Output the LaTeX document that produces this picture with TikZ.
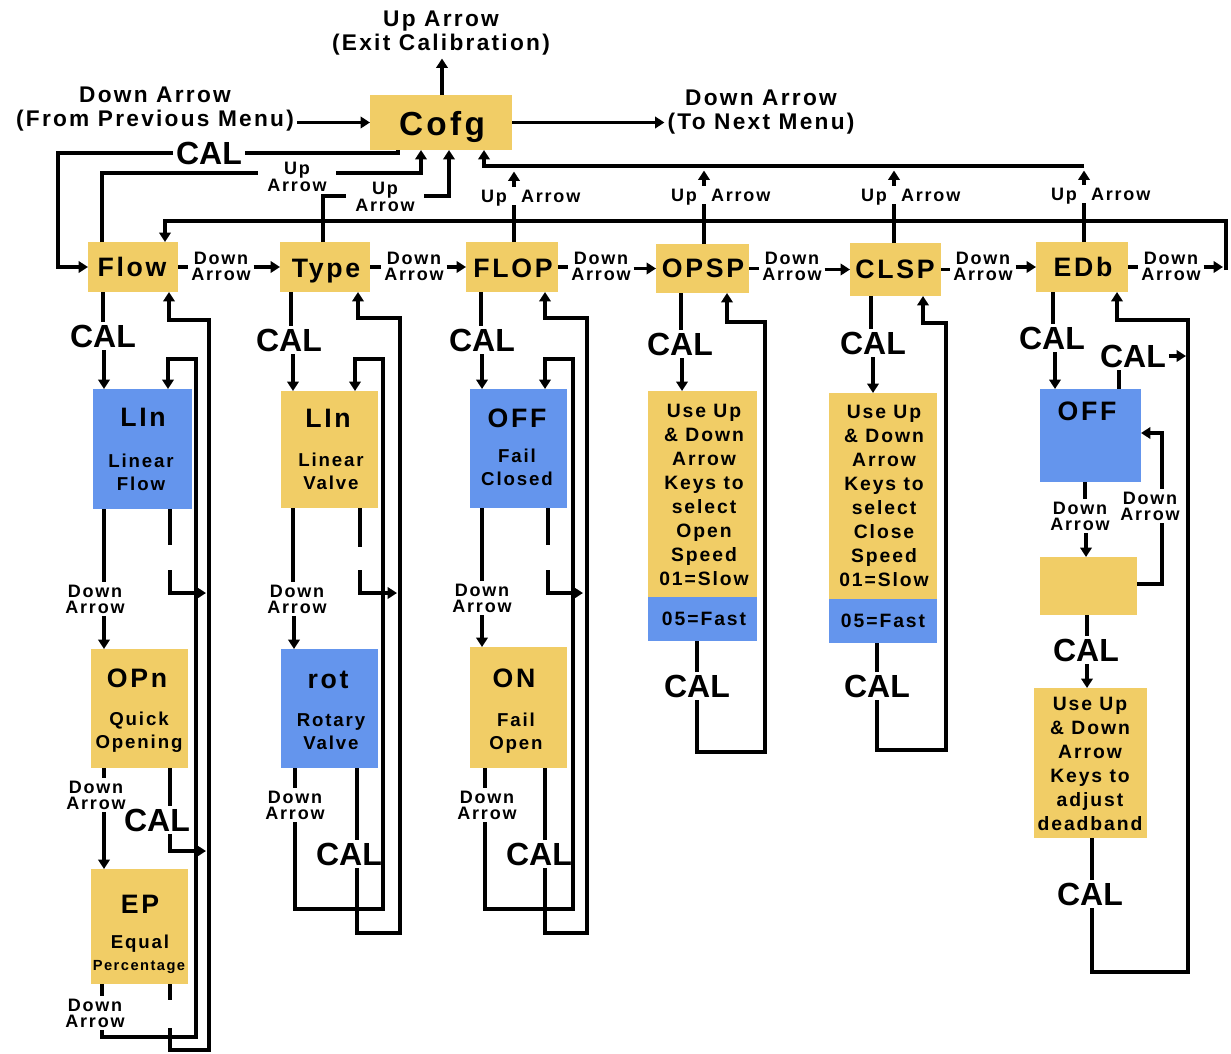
\documentclass[tikz,border=0pt]{standalone}
\usepackage{fontspec}
\setmainfont{Liberation Sans}
\newfontfamily\wsp{Liberation Sans}[LetterSpace=10]
\usetikzlibrary{arrows.meta}
\definecolor{cyel}{RGB}{241,205,102}
\definecolor{cblu}{RGB}{100,149,237}
\tikzset{
 arr/.style={-{Triangle[length=7pt,width=8.5pt]}},
 boxst/.style={draw=none,inner sep=0pt,outer sep=0pt,rectangle},
 tx/.style={inner sep=1pt,align=center,text=black},
 fcofg/.style={tx,font=\wsp\bfseries\fontsize{25pt}{30pt}\selectfont},
 fmain/.style={tx,font=\wsp\bfseries\fontsize{20pt}{24pt}\selectfont},
 fcal/.style={tx,font=\bfseries\fontsize{24pt}{28pt}\selectfont},
 fsm/.style={tx,font=\wsp\bfseries\fontsize{13.5pt}{12pt}\selectfont},
 ftop/.style={tx,font=\wsp\bfseries\fontsize{17pt}{18.5pt}\selectfont},
 fsub/.style={tx,font=\wsp\bfseries\fontsize{14pt}{17.25pt}\selectfont},
 fdet/.style={tx,font=\wsp\bfseries\fontsize{14.5pt}{18pt}\selectfont},
 ftiny/.style={tx,font=\wsp\bfseries\fontsize{11pt}{13pt}\selectfont},
 wide/.style={inner xsep=6pt}
}
\newcommand\mkbox[6]{\node[boxst,fill=#6,minimum width={(#4-#2)*0.75pt},minimum height={(#5-#3)*0.75pt}] (#1) at ({(#2+#4)/2},{(#3+#5)/2}) {};}
\begin{document}
\begin{tikzpicture}[x=0.75pt,y=-0.75pt,line width=2.6pt]
\useasboundingbox (0,0) rectangle (1231,1053);
\fill[white] (0,0) rectangle (1231,1053);
% ---------- boxes
\mkbox{cofg}{370}{95}{512}{150}{cyel}
\mkbox{flow}{88}{242}{178}{292}{cyel}
\mkbox{type}{280}{242}{370}{292}{cyel}
\mkbox{flop}{466}{242}{558}{292}{cyel}
\mkbox{opsp}{656}{244}{749}{293}{cyel}
\mkbox{clsp}{850}{243}{941}{296}{cyel}
\mkbox{edb}{1036}{242}{1128}{292}{cyel}
\mkbox{lina}{93}{389}{192}{509}{cblu}
\mkbox{opn}{91}{649}{188}{768}{cyel}
\mkbox{ep}{91}{869}{188}{984}{cyel}
\mkbox{linb}{281}{391}{378}{508}{cyel}
\mkbox{rot}{281}{649}{378}{768}{cblu}
\mkbox{offa}{470}{389}{567}{508}{cblu}
\mkbox{onb}{470}{647}{567}{768}{cyel}
\mkbox{opy}{648}{391}{757}{597}{cyel}
\mkbox{opb}{648}{597}{757}{641}{cblu}
\mkbox{cly}{829}{393}{937}{599}{cyel}
\mkbox{clb}{829}{599}{937}{643}{cblu}
\mkbox{offb}{1040}{389}{1141}{482}{cblu}
\mkbox{blank}{1040}{557}{1137}{615}{cyel}
\mkbox{dead}{1034}{688}{1147}{838}{cyel}
% ---------- box texts
\node[fcofg,anchor=base] (cofgt) at (442,135) {Cofg};
\node[fmain,anchor=base] (flowt) at (132,276) {Flow};
\node[fmain,anchor=base] (typet) at (326,277) {Type};
\node[fmain,anchor=base] (flopt) at (513,277) {FLOP};
\node[fmain,anchor=base] (opspt) at (703,277) {OPSP};
\node[fmain,anchor=base] (clspt) at (895,278) {CLSP};
\node[fmain,anchor=base] (edbt) at (1083,276) {EDb};
\node[fmain,anchor=base] (linat) at (143,426) {LIn};
\node[fsub] (linas) at (141,472) {Linear\\Flow};
\node[fmain,anchor=base] (opnt) at (137,687) {OPn};
\node[fsub] (opns) at (139,732) {Quick\\Opening};
\node[fmain,anchor=base] (ept) at (140,913) {EP};
\node[fsub,anchor=base] (eps) at (140,948) {Equal};
\node[ftiny,anchor=base] (ept2) at (139,970) {Percentage};
\node[fmain,anchor=base] (linbt) at (328,427) {LIn};
\node[fsub] (linbs) at (331,471.5) {Linear\\Valve};
\node[fmain,anchor=base] (rott) at (328,688) {rot};
\node[fsub] (rots) at (331,732) {Rotary\\Valve};
\node[fmain,anchor=base] (offat) at (517,427) {OFF};
\node[fsub] (offas) at (517,467) {Fail\\Closed};
\node[fmain,anchor=base] (onbt) at (514,687) {ON};
\node[fsub] (onbs) at (516,733) {Fail\\Open};
\node[fmain,anchor=base] (offbt) at (1087,420) {OFF};
\node[fdet] (opyt) at (704,495) {Use Up\\\& Down\\Arrow\\Keys to\\select\\Open\\Speed\\01=Slow};
\node[fdet] (opbt) at (704,619) {05=Fast};
\node[fdet] (clyt) at (884,496) {Use Up\\\& Down\\Arrow\\Keys to\\select\\Close\\Speed\\01=Slow};
\node[fdet] (clbt) at (883,621) {05=Fast};
\node[fdet] (deadt) at (1090,764) {Use Up\\\& Down\\Arrow\\Keys to\\adjust\\deadband};
% ---------- top
\node[ftop] (upexit) at (441,33) {Up Arrow\\(Exit Calibration)};
\node[ftop] (fromprev) at (155,109) {Down Arrow\\(From Previous Menu)};
\node[ftop] (tonext) at (761,112) {Down Arrow\\(To Next Menu)};
\draw[arr] (cofg.north -| 442,0) -- (upexit.south -| 442,0);
\draw[arr] (fromprev.east |- cofg.west) -- (cofg.west);
\draw[arr] (cofg.east) -- (tonext.west |- cofg.east);
\node[fcal] (calcofg) at (209,153) {CAL};
\draw (cofg.south -| 398,0) |- (calcofg.east);
\draw[arr] (calcofg.west) -| (flow.west -| 58,0) -- (flow.west);
\node[fsm,wide] (uaflow) at (297,177) {Up\\Arrow};
\draw (flow.north -| 102,0) |- (uaflow.west |- 0,173);
\draw[arr] (uaflow.east |- 0,173) -| (cofg.south -| 421,0);
\node[fsm,wide] (uatype) at (385,197) {Up\\Arrow};
\draw (type.north -| 323,0) |- (uatype.west |- 0,196);
\draw[arr] (uatype.east |- 0,196) -| (cofg.south -| 449,0);
\draw[arr] (1084,166) -- (484,166) -- (cofg.south -| 484,0);
% up arrows
\node[fsm,anchor=base east] (uaflopU) at (510,202) {Up};
\node[fsm,anchor=base west] (uaflopA) at (518,202) {Arrow};
\draw (flop.north -| 514,0) -- (uaflopA.south -| 514,0);
\draw[arr] (uaflopA.north -| 514,0) -- ++(0,-15);
\node[fsm,anchor=base east] (uaopU) at (700,201) {Up};
\node[fsm,anchor=base west] (uaopA) at (708,201) {Arrow};
\draw (opsp.north -| 704,0) -- (uaopA.south -| 704,0);
\draw[arr] (uaopA.north -| 704,0) -- ++(0,-15);
\node[fsm,anchor=base east] (uaclU) at (890,201) {Up};
\node[fsm,anchor=base west] (uaclA) at (898,201) {Arrow};
\draw (clsp.north -| 894,0) -- (uaclA.south -| 894,0);
\draw[arr] (uaclA.north -| 894,0) -- ++(0,-15);
\node[fsm,anchor=base east] (uaedU) at (1080,200) {Up};
\node[fsm,anchor=base west] (uaedA) at (1088,200) {Arrow};
\draw (edb.north -| 1084,0) -- (uaedA.south -| 1084,0);
\draw[arr] (uaedA.north -| 1084,0) -- ++(0,-14);
% loop back to Flow
\draw[arr] (1226,270) |- (165,221) -- (flow.north -| 165,0);
% ---------- row arrows
\node[fsm] (da1) at (221,266) {Down\\Arrow};
\draw (flow.east) -- (da1.west |- flow.east);
\draw[arr] (da1.east |- type.west) -- (type.west);
\node[fsm] (da2) at (414,266) {Down\\Arrow};
\draw (type.east) -- (da2.west |- type.east);
\draw[arr] (da2.east |- flop.west) -- (flop.west);
\node[fsm] (da3) at (601,266) {Down\\Arrow};
\draw (flop.east) -- (da3.west |- flop.east);
\draw[arr] (da3.east |- opsp.west) -- (opsp.west);
\node[fsm] (da4) at (792,266) {Down\\Arrow};
\draw (opsp.east) -- (da4.west |- opsp.east);
\draw[arr] (da4.east |- clsp.west) -- (clsp.west);
\node[fsm] (da5) at (983,266) {Down\\Arrow};
\draw (clsp.east) -- (da5.west |- clsp.east);
\draw[arr] (da5.east |- edb.west) -- (edb.west);
\node[fsm] (da6) at (1171,266) {Down\\Arrow};
\draw (edb.east) -- (da6.west |- edb.east);
\draw[arr] (da6.east |- edb.east) -- (1223,267);
% ---------- Flow column
\node[fcal] (calf1) at (103,336) {CAL};
\draw (flow.south -| 103,0) -- (calf1.north -| 103,0);
\draw[arr] (calf1.south -| 104,0) -- (lina.north -| 104,0);
\node[fsm] (dla) at (95,599) {Down\\Arrow};
\draw (lina.south -| 104,0) -- (dla.north -| 104,0);
\draw[arr] (dla.south -| 104,0) -- (opn.north -| 104,0);
\node[fsm] (dopn) at (96,795) {Down\\Arrow};
\draw (opn.south -| 104,0) -- (dopn.north -| 104,0);
\draw[arr] (dopn.south -| 104,0) -- (ep.north -| 104,0);
\node[fsm] (dep) at (95,1013) {Down\\Arrow};
\draw (ep.south -| 102,0) -- (dep.north -| 102,0);
\draw[arr] (dep.south -| 102,0) |- (196,1037) |- (168,359) -- (lina.north -| 168,0);
\draw (lina.south -| 170,0) -- (170,545);
\draw[arr] (170,570) |- (206,593);
\node[fcal] (calf2) at (157,820) {CAL};
\draw (opn.south -| 170,0) -- (calf2.north -| 170,0);
\draw[arr] (calf2.south -| 170,0) |- (206,851);
\draw (ep.south -| 170,0) -- (170,1000);
\draw[arr] (170,1028) |- (209,1050) |- (169,320) -- (flow.south -| 169,0);
% ---------- Type column
\node[fcal] (calt1) at (289,340) {CAL};
\draw (type.south -| 291,0) -- (calt1.north -| 291,0);
\draw[arr] (calt1.south -| 293,0) -- (linb.north -| 293,0);
\node[fsm] (dlb) at (297,599) {Down\\Arrow};
\draw (linb.south -| 293,0) -- (dlb.north -| 293,0);
\draw[arr] (dlb.south -| 294,0) -- (rot.north -| 294,0);
\node[fsm] (drot) at (295,805) {Down\\Arrow};
\draw (rot.south -| 295,0) -- (drot.north -| 295,0);
\draw[arr] (drot.south -| 295,0) |- (383,909) |- (355,359) -- (linb.north -| 355,0);
\draw (linb.south -| 360,0) -- (360,547);
\draw[arr] (360,570) |- (397,593);
\node[fcal] (calt3) at (349,854) {CAL};
\draw (rot.south -| 357,0) -- (calt3.north -| 357,0);
\draw[arr] (calt3.south -| 357,0) |- (400,933) |- (358,318) -- (type.south -| 358,0);
% ---------- FLOP column
\node[fcal] (calp1) at (482,340) {CAL};
\draw (flop.south -| 481,0) -- (calp1.north -| 481,0);
\draw[arr] (calp1.south -| 482,0) -- (offa.north -| 482,0);
\node[fsm] (doffa) at (482,598) {Down\\Arrow};
\draw (offa.south -| 482,0) -- (doffa.north -| 482,0);
\draw[arr] (doffa.south -| 482,0) -- (onb.north -| 482,0);
\node[fsm] (don) at (487,805) {Down\\Arrow};
\draw (onb.south -| 485,0) -- (don.north -| 485,0);
\draw[arr] (don.south -| 485,0) |- (573,909) |- (545,359) -- (offa.north -| 545,0);
\draw (offa.south -| 548,0) -- (548,545);
\draw[arr] (548,570) |- (583,593);
\node[fcal] (calp3) at (539,854) {CAL};
\draw (onb.south -| 545,0) -- (calp3.north -| 545,0);
\draw[arr] (calp3.south -| 545,0) |- (587,933) |- (545,318) -- (flop.south -| 545,0);
% ---------- OPSP column
\node[fcal] (calo1) at (680,344) {CAL};
\draw (opsp.south -| 681,0) -- (calo1.north -| 681,0);
\draw[arr] (calo1.south -| 682,0) -- (opy.north -| 682,0);
\node[fcal] (calo2) at (697,686) {CAL};
\draw (opb.south -| 697,0) -- (calo2.north -| 697,0);
\draw[arr] (calo2.south -| 697,0) |- (765,752) |- (727,322) -- (opsp.south -| 727,0);
% ---------- CLSP column
\node[fcal] (calc1) at (873,343) {CAL};
\draw (clsp.south -| 871,0) -- (calc1.north -| 871,0);
\draw[arr] (calc1.south -| 873,0) -- (cly.north -| 873,0);
\node[fcal] (calc2) at (877,686) {CAL};
\draw (clb.south -| 877,0) -- (calc2.north -| 877,0);
\draw[arr] (calc2.south -| 877,0) |- (946,750) |- (923,323) -- (clsp.south -| 923,0);
% ---------- EDb column
\node[fcal] (cale1) at (1052,338) {CAL};
\draw (edb.south -| 1053,0) -- (cale1.north -| 1053,0);
\draw[arr] (cale1.south -| 1055,0) -- (offb.north -| 1055,0);
\node[fcal] (cale2) at (1133,356) {CAL};
\draw (offb.north -| 1119,0) -- (cale2.south -| 1119,0);
\draw[arr] (cale2.east) -- (cale2.east -| 1186,0);
\node[fsm] (doffb) at (1080,516) {Down\\Arrow};
\draw (offb.south -| 1085,0) -- (doffb.north -| 1085,0);
\draw[arr] (doffb.south -| 1086,0) -- (blank.north -| 1086,0);
\node[fsm] (dblank) at (1150,506) {Down\\Arrow};
\draw (blank.east |- 0,584) -| (dblank.south -| 1162,0);
\draw[arr] (dblank.north -| 1162,0) |- (offb.east |- 0,433);
\node[fcal] (cale4) at (1086,650) {CAL};
\draw (blank.south -| 1087,0) -- (cale4.north -| 1087,0);
\draw[arr] (cale4.south -| 1087,0) -- (dead.north -| 1087,0);
\node[fcal] (cale3) at (1090,894) {CAL};
\draw (dead.south -| 1092,0) -- (cale3.north -| 1092,0);
\draw[arr] (cale3.south -| 1092,0) |- (1188,972) |- (1117,320) -- (edb.south -| 1117,0);
\end{tikzpicture}
\end{document}
